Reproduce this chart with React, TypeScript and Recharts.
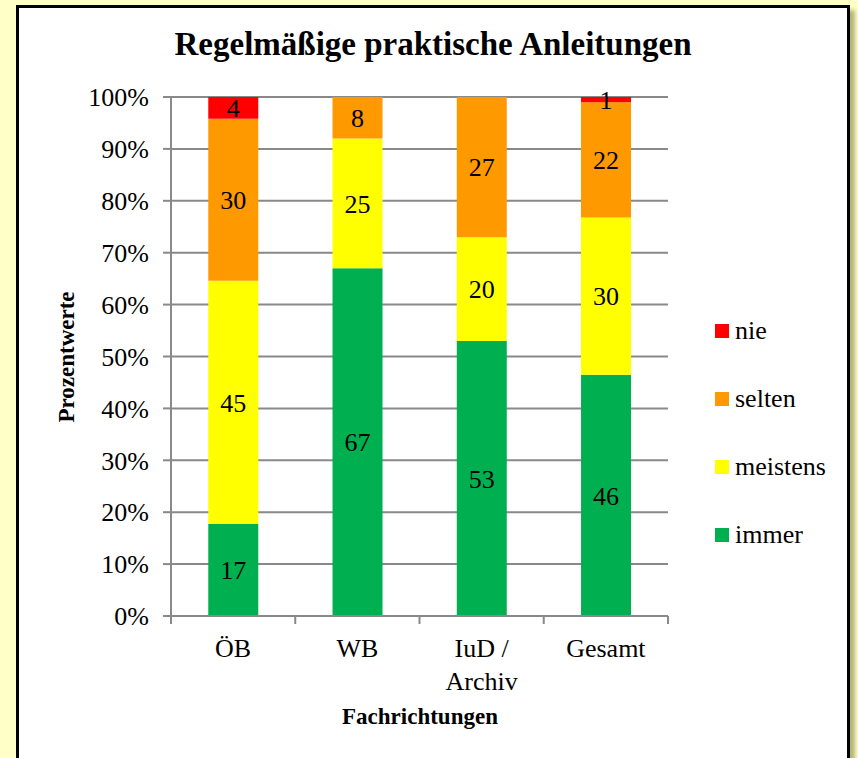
import React from "react"
import { Bar, BarChart, CartesianGrid, LabelList, XAxis, YAxis } from "recharts"

const categories = ["ÖB", "WB", "IuD / Archiv", "Gesamt"]
const immer = [17, 67, 53, 46]
const meistens = [45, 25, 20, 30]
const selten = [30, 8, 27, 22]
const nie = [4, 0, 0, 1]
const yTicks = [0, 0.1, 0.2, 0.3, 0.4, 0.5, 0.6, 0.7, 0.8, 0.9, 1]

const series = [
  { key: "immer", color: "#00B050" },
  { key: "meistens", color: "#FFFF00" },
  { key: "selten", color: "#FF9900" },
  { key: "nie", color: "#FF0000" },
]

const data = categories.map((name, i) => ({
  name,
  immer: immer[i],
  meistens: meistens[i],
  selten: selten[i],
  nie: nie[i],
}))

const FONT = "'Liberation Serif', 'Times New Roman', serif"
const GRID = "#898989"
const TICK_MARGIN = 23

// category label plus the tick marks between categories
const CategoryTick = ({ x, y, payload, index, visibleTicksCount }: any) => {
  const lines = payload.value === "IuD / Archiv" ? ["IuD /", "Archiv"] : [payload.value]
  const half = payload.offset || 0
  const axisY = y - TICK_MARGIN
  return (
    <g>
      <line x1={x - half} x2={x - half} y1={axisY} y2={axisY + 8} stroke={GRID} strokeWidth={2} />
      {index === visibleTicksCount - 1 && (
        <line x1={x + half} x2={x + half} y1={axisY} y2={axisY + 8} stroke={GRID} strokeWidth={2} />
      )}
      <text x={x} y={y} textAnchor="middle" fontSize={26} fill="#000">
        {lines.map((l, i) => (
          <tspan key={l} x={x} dy={i === 0 ? "0.71em" : 33}>
            {l}
          </tspan>
        ))}
      </text>
    </g>
  )
}

export default function App() {
  return (
    <div
      style={{
        position: "absolute",
        left: 0,
        top: 0,
        width: 858,
        height: 758,
        background: "#FFFFC8",
        overflow: "hidden",
        fontFamily: FONT,
      }}
    >
      <style>{`.chart text { font-family: 'Liberation Serif', 'Times New Roman', serif; }`}</style>
      <div
        style={{
          position: "absolute",
          left: 16,
          top: 5,
          width: 828,
          height: 800,
          background: "#fff",
          border: "3px solid #000",
          boxShadow: "5px 5px 4px rgba(120,120,60,0.55)",
        }}
      />
      <div
        style={{
          position: "absolute",
          left: 0,
          width: 866,
          top: 26,
          textAlign: "center",
          fontWeight: "bold",
          fontSize: 33,
        }}
      >
        Regelmäßige praktische Anleitungen
      </div>
      <div
        style={{
          position: "absolute",
          left: 67,
          top: 357,
          transform: "translate(-50%, -50%) rotate(-90deg)",
          fontWeight: "bold",
          fontSize: 23,
          whiteSpace: "nowrap",
        }}
      >
        Prozentwerte
      </div>
      <div
        style={{
          position: "absolute",
          left: 0,
          width: 840,
          top: 704,
          textAlign: "center",
          fontWeight: "bold",
          fontSize: 23,
        }}
      >
        Fachrichtungen
      </div>
      <div style={{ position: "absolute", left: 715, top: 297, fontSize: 26, color: "#000" }}>
        {[...series].reverse().map((s) => (
          <div key={s.key} style={{ display: "flex", alignItems: "center", height: 68 }}>
            <span style={{ width: 14, height: 14, background: s.color, marginRight: 6 }} />
            <span>{s.key}</span>
          </div>
        ))}
      </div>
      <div className="chart" style={{ position: "absolute", left: 0, top: 0 }}>
        <BarChart
          width={858}
          height={758}
          data={data}
          stackOffset="expand"
          barCategoryGap="30%"
          margin={{ top: 97, right: 190, bottom: 82, left: 91 }}
        >
          <CartesianGrid vertical={false} stroke={GRID} strokeWidth={2} />
          <XAxis
            dataKey="name"
            axisLine={{ stroke: GRID, strokeWidth: 2 }}
            tickLine={false}
            tickSize={0}
            tickMargin={TICK_MARGIN}
            tick={<CategoryTick />}
            interval={0}
            height={60}
          />
          <YAxis
            type="number"
            domain={[0, 1]}
            ticks={yTicks}
            interval={0}
            width={80}
            tickFormatter={(v: number) => `${Math.round(v * 100)}%`}
            axisLine={{ stroke: GRID, strokeWidth: 2 }}
            tickLine={{ stroke: GRID, strokeWidth: 2 }}
            tickSize={8}
            tickMargin={14}
            tick={{ fill: "#000", fontSize: 26 }}
          />
          {series.map((s) => (
            <Bar key={s.key} dataKey={s.key} stackId="a" fill={s.color} isAnimationActive={false}>
              <LabelList
                dataKey={s.key}
                position="center"
                fill="#000"
                fontSize={26}
                formatter={(v: any) => (v ? v : "")}
              />
            </Bar>
          ))}
        </BarChart>
      </div>
    </div>
  )
}
